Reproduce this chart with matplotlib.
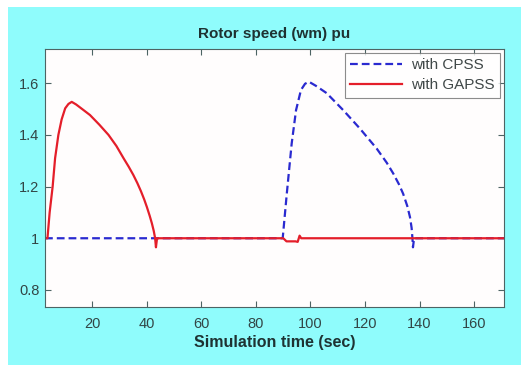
import numpy as np
import matplotlib.pyplot as plt
from matplotlib.patches import Rectangle

plt.rcParams['font.family'] = ['Liberation Sans', 'DejaVu Sans']

# with CPSS (blue dashed)
t_cpss = [2.6, 43.0, 89.8, 91.3, 93.1, 94.7, 96.5, 98.0, 99.4, 102.0, 105.9,
          112.0, 118.1, 124.3, 128.0, 130.4, 132.5, 134.0, 135.5, 136.5, 137.1, 137.4,
          137.6, 138.0, 171.0]
w_cpss = [1.0, 1.0, 1.0, 1.172, 1.367, 1.496, 1.574, 1.598, 1.606, 1.59, 1.562,
          1.496, 1.425, 1.347, 1.292, 1.25, 1.208, 1.172, 1.125, 1.082, 1.04, 1.0,
          0.965, 1.0, 1.0]

# with GAPSS (red solid)
t_gapss = [2.6, 3.5, 4.3, 5.4, 6.3, 7.5, 8.7, 10.0, 11.2, 12.4, 14.0, 16.5, 19.1,
           22.5, 25.9, 28.8, 31.4, 33.3, 35.0, 36.5, 37.8, 39.0, 40.0, 41.0, 41.8,
           42.5, 43.0, 43.3, 43.7, 90.0, 91.2, 94.5, 95.3, 96.0, 96.6, 171.0]
w_gapss = [1.0, 1.0, 1.1, 1.2, 1.31, 1.4, 1.46, 1.503, 1.52, 1.528, 1.518, 1.498, 1.477,
           1.44, 1.40, 1.357, 1.31, 1.277, 1.245, 1.213, 1.182, 1.15, 1.12, 1.087,
           1.058, 1.028, 1.0, 0.965, 1.0, 1.0, 0.988, 0.988, 0.986, 1.01, 1.0, 1.0]

fig = plt.figure(figsize=(5.21, 3.65), dpi=100, facecolor='white')
bg = Rectangle((0.0154, 0.0), 0.99, 0.981, transform=fig.transFigure,
               facecolor='#8ffcfc', edgecolor='none', zorder=-10)
fig.add_artist(bg)

ax = fig.add_axes([0.0864, 0.159, 0.881, 0.707])
ax.set_facecolor('#fffdfd')

ax.plot(t_cpss, w_cpss, color='#2a2ad0', lw=1.6, ls=(0, (3.5, 1.8)), label='with CPSS')
ax.plot(t_gapss, w_gapss, color='#e41e2a', lw=1.6, label='with GAPSS')

ax.set_xlim(2.6, 171)
ax.set_ylim(0.734, 1.733)
ax.set_xticks([20, 40, 60, 80, 100, 120, 140, 160])
ax.set_yticks([0.8, 1.0, 1.2, 1.4, 1.6])
ax.set_yticklabels(['0.8', '1', '1.2', '1.4', '1.6'])

for s in ax.spines.values():
    s.set_color('#4d6464')
ax.tick_params(direction='in', top=True, right=True, length=4, width=0.8,
               colors='#4d6464', labelsize=10.5, labelcolor='#324646')
ax.tick_params(axis='x', pad=7)
ax.tick_params(axis='y', pad=4)

ax.set_title('Rotor speed (wm) pu', fontsize=11, fontweight='bold', color='#1e3232', pad=8)
ax.set_xlabel('Simulation time (sec)', fontsize=11.5, fontweight='bold', color='#1e3232',
              labelpad=3)

leg = ax.legend(loc='upper right', fontsize=11, frameon=True, fancybox=False,
                borderaxespad=0.25, handlelength=3.4, labelspacing=0.4, borderpad=0.35,
                handletextpad=0.6)
leg.get_frame().set_edgecolor('#707070')
leg.get_frame().set_linewidth(0.8)
for txt in leg.get_texts():
    txt.set_color('#404848')

fig.savefig('out.png', dpi=100, facecolor=fig.get_facecolor())
